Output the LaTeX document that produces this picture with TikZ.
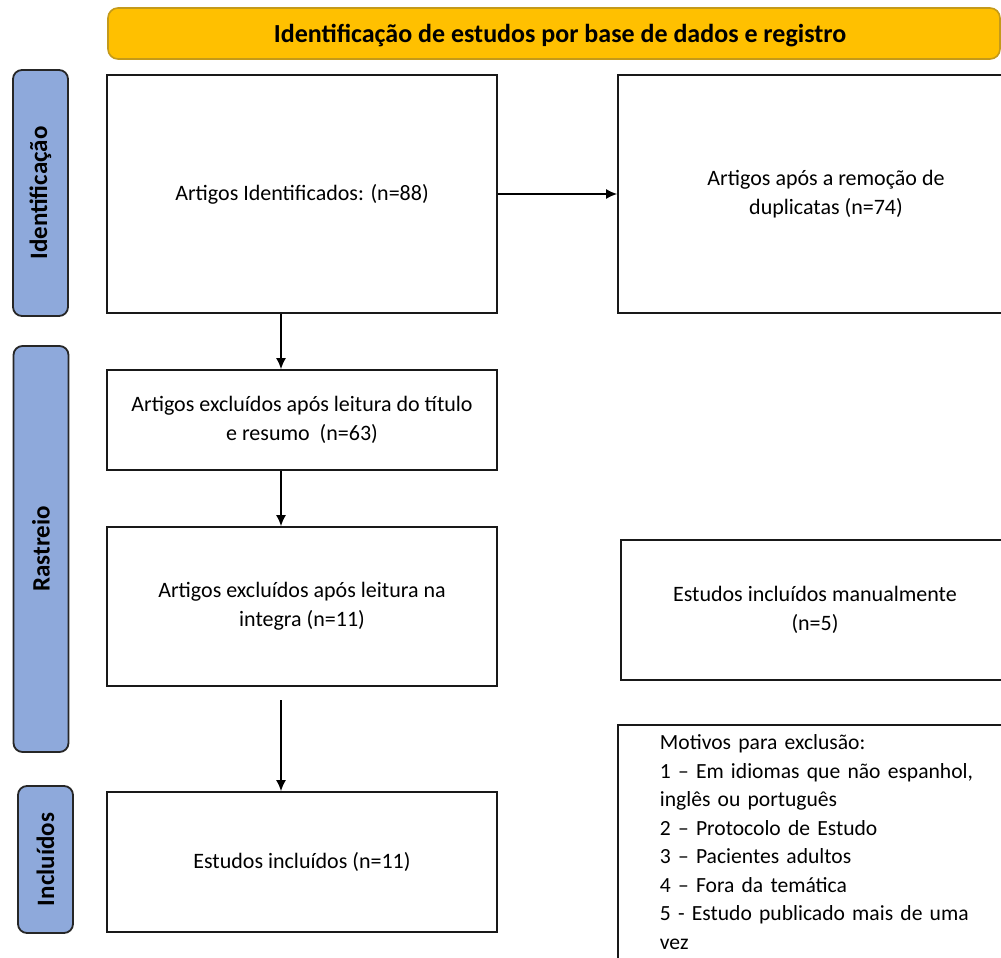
\documentclass[tikz,border=0pt]{standalone}
\usepackage{fontspec}
\setmainfont{Carlito}
\usetikzlibrary{arrows.meta}
\definecolor{gold}{HTML}{FFC000}
\definecolor{goldline}{HTML}{C49A1A}
\definecolor{sideblue}{HTML}{8EA9DB}
\begin{document}
\begin{tikzpicture}[x=0.5pt,y=-0.5pt,
  box/.style={draw=black!90,line width=0.9pt,align=center,font=\fontsize{11}{14.5}\selectfont},
  side/.style={draw=black!85,fill=sideblue,rounded corners=4.5pt,line width=0.9pt,rotate=90,
    minimum height=27.5pt,font=\fontsize{12.5}{15}\selectfont\bfseries},
  arr/.style={-{Latex[length=5.5pt,width=5pt]},line width=0.7pt}]
  \useasboundingbox (0,0) rectangle (1001,958);

  % cabecalho
  \node[draw=goldline,fill=gold,rounded corners=5pt,line width=0.8pt,minimum width=446pt,minimum height=25.5pt,
    text depth=0pt,font=\fontsize{13}{15}\selectfont\bfseries] (title) at (554,33.5) {\hspace{6pt}Identificação de estudos por base de dados e registro};

  % etapas
  \node[side,minimum width=123pt] (s1) at (40.5,193) {Identificação};
  \node[side,minimum width=203pt] (s2) at (41,549) {Rastreio};
  \node[side,minimum width=73.5pt] (s3) at (45.5,859.5) {Incluídos};

  % caixas
  \node[box,minimum width=195pt,minimum height=119pt] (a) at (302,194) {Artigos Identificados: (n=88)};
  \node[box,minimum width=208pt,minimum height=119pt] (b) at (826,194) {Artigos após a remoção de\\duplicatas (n=74)};
  \node[box,minimum width=195pt,minimum height=50pt] (c) at (302,420) {Artigos excluídos após leitura do título\\e resumo~~(n=63)};
  \node[box,minimum width=195pt,minimum height=79.5pt] (d) at (302,606.5) {Artigos excluídos após leitura na\\integra (n=11)};
  \node[box,minimum width=195pt,minimum height=70pt] (e) at (302,862) {Estudos incluídos (n=11)};
  \node[box,minimum width=194pt,minimum height=70pt] (f) at (815,610) {Estudos incluídos manualmente\\(n=5)};
  \node[box,align=left,anchor=north west,inner xsep=21pt,inner ysep=5pt,text width=170pt,
    font=\fontsize{10.8}{14.25}\selectfont] (g) at (617,724)
    {Motivos para exclusão:\\
     1 – Em idiomas que não espanhol,\\
     inglês ou português\\
     2 – Protocolo de Estudo\\
     3 – Pacientes adultos\\
     4 – Fora da temática\\
     5 - Estudo publicado mais de uma\\
     vez};

  % setas
  \coordinate (ax) at (281,700);
  \draw[arr] (a.east) -- (b.west);
  \draw[arr] (ax |- a.south) -- (ax |- c.north);
  \draw[arr] (ax |- c.south) -- (ax |- d.north);
  \draw[arr] (ax) -- (ax |- e.north);

\end{tikzpicture}
\end{document}
